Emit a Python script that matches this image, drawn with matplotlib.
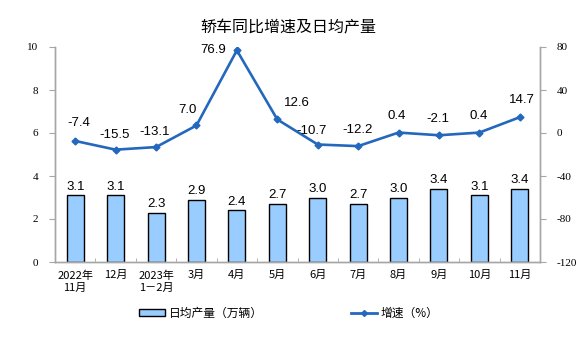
import matplotlib
matplotlib.use("Agg")
import matplotlib.pyplot as plt
import numpy as np
from matplotlib.lines import Line2D
from matplotlib.patches import Patch

plt.rcParams['font.family'] = ['Noto Sans CJK SC', 'DejaVu Sans']

categories = ["2022年\n11月", "12月", "2023年\n1－2月", "3月", "4月", "5月", "6月", "7月", "8月", "9月", "10月", "11月"]
daily_output = [3.1, 3.1, 2.3, 2.9, 2.4, 2.7, 3.0, 2.7, 3.0, 3.4, 3.1, 3.4]
growth = [-7.4, -15.5, -13.1, 7.0, 76.9, 12.6, -10.7, -12.2, 0.4, -2.1, 0.4, 14.7]
left_ticks = [0, 2, 4, 6, 8, 10]
right_ticks = [-120, -80, -40, 0, 40, 80]

# label offsets for the growth labels (pixels, dx, dy upward)
growth_label_dx = [4, -1, -1, -9, -24, 20, -6, -1, -2, -1, -1, 2]
growth_label_dy = [18, 15, 15, 15, 0, 16, 14, 16, 17, 16, 17, 17]

bar_color = "#99CCFF"
line_color = "#2468BE"
axis_gray = "#A6A6A6"

fig = plt.figure(figsize=(5.76, 3.57), dpi=100)
ax = fig.add_axes([55/576, 1 - 262/357, (540-55)/576, (262-47)/357])
ax2 = ax.twinx()

x = np.arange(len(categories))
ax.bar(x, daily_output, width=0.42, color=bar_color, edgecolor="black", linewidth=1.0, zorder=2)
for xi, v in zip(x, daily_output):
    ax.text(xi, v + 0.12, f"{v:.1f}", ha="center", va="bottom", fontsize=9.5, family="Liberation Sans")

ax.set_xlim(-0.5, len(categories) - 0.5)
ax.set_ylim(0, 10)
ax.set_yticks(left_ticks)
ax.set_yticklabels([str(t) for t in left_ticks], fontsize=8, family="Liberation Serif")
ax.set_xticks(x)
ax.set_xticklabels(categories, fontsize=8, linespacing=1.3)
ax.set_xticks(np.arange(-0.5, len(categories) + 0.5, 1), minor=True)
ax.tick_params(axis="x", which="major", length=0, pad=6)
ax.tick_params(axis="x", which="minor", length=3, color=axis_gray, direction="in")
ax.tick_params(axis="y", length=4, color=axis_gray, pad=8)

ax2.plot(x, growth, color=line_color, linewidth=1.9, marker="D", markersize=3.5, zorder=3)
px2pt = 72 / 100
for xi, v, dx, dy in zip(x, growth, growth_label_dx, growth_label_dy):
    ax2.annotate(f"{v:.1f}", (xi, v), xytext=(dx * px2pt, dy * px2pt), textcoords="offset points",
                 ha="center", va="center", fontsize=9.5, family="Liberation Sans")
ax2.set_ylim(-120, 80)
ax2.set_yticks(right_ticks)
ax2.set_yticklabels([str(t) for t in right_ticks], fontsize=8, family="Liberation Serif")
ax2.tick_params(axis="y", length=4, color=axis_gray, pad=8)

for a in (ax, ax2):
    a.spines["top"].set_visible(False)
    for s in ("left", "right", "bottom"):
        a.spines[s].set_color(axis_gray)
        a.spines[s].set_linewidth(1.0)

fig.text(0.5, 1 - 28/357, "轿车同比增速及日均产量", ha="center", va="center", fontsize=11.5)

handles = [Patch(facecolor=bar_color, edgecolor="black", linewidth=1.0),
           Line2D([0], [0], color=line_color, linewidth=2, marker="D", markersize=3)]
labels = ["日均产量（万辆）", "增速（%）"]
fig.legend(handles, labels, loc="center", bbox_to_anchor=(0.502, 1 - 313/357), ncol=2,
           frameon=False, fontsize=8.5, columnspacing=7.5, handlelength=2.2, handleheight=0.6,
           handletextpad=0.3)

fig.savefig("out.png", dpi=100)
